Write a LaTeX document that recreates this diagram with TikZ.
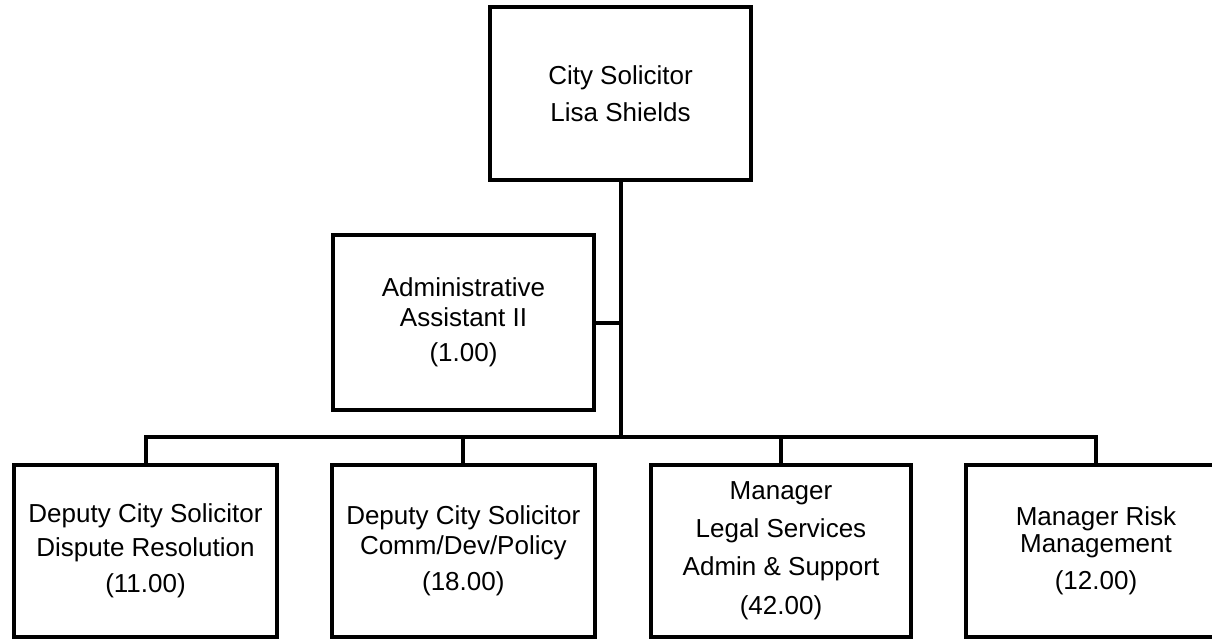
\documentclass[tikz,border=0pt]{standalone}
\usepackage{fontspec}
\setmainfont{Liberation Sans}
\begin{document}
\begin{tikzpicture}[x=1pt,y=-1pt,
  box/.style={draw=black,line width=4pt,inner sep=0pt,align=center,
    font=\fontsize{26}{29.5}\selectfont},
  link/.style={draw=black,line width=4pt}]
\useasboundingbox (0,0) rectangle (1212,639);
\clip (0,0) rectangle (1212,639);
\node[box,minimum width=261pt,minimum height=173pt] (top) at (620.5,93.5)
  {City Solicitor\\[8pt]Lisa Shields};
\node[box,minimum width=261pt,minimum height=175pt] (admin) at (463.5,322.5)
  {Administrative\\Assistant II\\[6pt](1.00)};
\node[box,minimum width=263pt,minimum height=171.5pt] (b1) at (145.5,550.75)
  {Deputy City Solicitor\\[5pt]Dispute Resolution\\[6pt](11.00)};
\node[box,minimum width=263pt,minimum height=171.5pt] (b2) at (463.3,550.75)
  {Deputy City Solicitor\\[1pt]Comm/Dev/Policy\\[6pt](18.00)};
\node[box,minimum width=260pt,minimum height=171.5pt] (b3) at (781,550.75)
  {Manager\\[9pt]Legal Services\\[8pt]Admin \& Support\\[10pt](42.00)};
\node[box,minimum width=260pt,minimum height=171.5pt] (b4) at (1096,550.75)
  {Manager Risk\\[-2pt]Management\\[7pt](12.00)};
\coordinate (bus) at (0,436.7);
\draw[link] (top.south) -- (top.south |- bus);
\draw[link] (admin.east) -- (admin.east -| top.south);
\draw[link] (b1.north) |- (bus -| b4.north) -- (b4.north);
\draw[link] (b2.north) -- (b2.north |- bus);
\draw[link] (b3.north) -- (b3.north |- bus);
\end{tikzpicture}
\end{document}
